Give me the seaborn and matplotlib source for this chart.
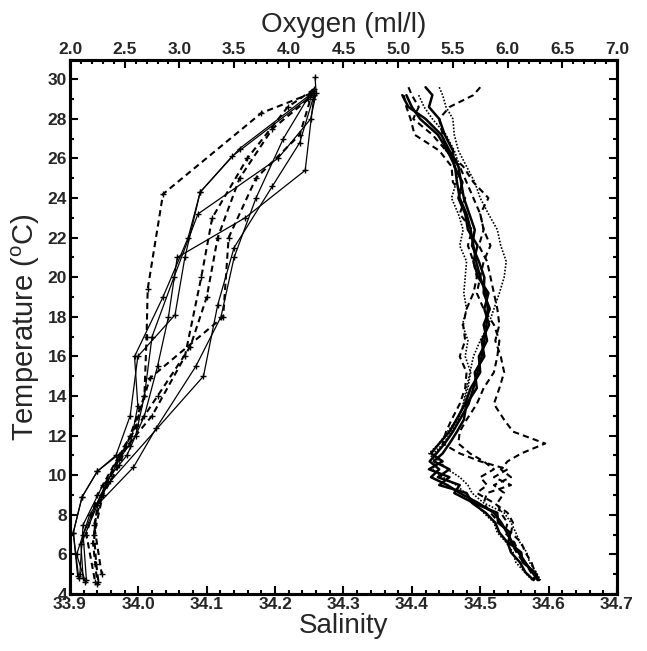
import numpy as np
import pandas as pd
import matplotlib
matplotlib.use('Agg')
import matplotlib.pyplot as plt
import seaborn as sns
from matplotlib.ticker import MultipleLocator

# ---- data ----
# oxygen bottle profiles: temperature (C) and oxygen (ml/l)
OXY_TEMP = [
    [29.3, 28.3, 24.2, 19.4, 17.0, 14.0, 12.0, 10.5, 9.0, 7.0, 5.5, 4.6],
    [29.1, 26.1, 24.3, 22.0, 19.0, 16.0, 13.5, 11.5, 10.2, 8.9, 7.1, 4.9],
    [29.2, 25.4, 23.0, 21.0, 18.0, 15.5, 13.0, 11.0, 9.5, 7.5, 5.0],
    [29.0, 26.8, 24.6, 21.5, 18.6, 15.0, 9.7, 8.0, 6.0, 4.6],
    [29.3, 27.0, 24.0, 21.0, 18.0, 15.5, 12.4, 10.4, 8.5, 6.5, 4.8],
    [29.4, 27.2, 25.0, 22.0, 18.0, 14.9, 12.5, 10.5, 8.5, 6.6, 4.5],
    [29.5, 28.6, 26.0, 23.0, 20.0, 16.0, 13.0, 11.0, 9.0, 7.0, 4.6],
    [29.2, 26.5, 24.3, 21.0, 18.1, 16.0, 13.0, 11.0, 10.2, 8.9, 7.1, 4.8],
    [29.0, 27.5, 25.0, 22.0, 19.0, 16.5, 14.0, 11.5, 9.5, 7.5, 5.0],
    [30.1, 29.3, 28.0, 26.0, 23.2, 20.0, 17.0, 14.0, 12.0, 10.8, 9.0, 7.0, 4.7],
]
OXY_VAL = [
    [4.21, 3.75, 2.85, 2.71, 2.70, 2.68, 2.55, 2.45, 2.30, 2.22, 2.24, 2.26],
    [4.19, 3.48, 3.19, 3.08, 2.85, 2.59, 2.62, 2.55, 2.25, 2.11, 2.03, 2.07],
    [4.23, 4.15, 3.60, 2.98, 2.90, 2.80, 2.68, 2.52, 2.30, 2.12, 2.09],
    [4.22, 4.10, 3.85, 3.50, 3.35, 3.22, 2.37, 2.18, 2.06, 2.14],
    [4.20, 3.95, 3.70, 3.50, 3.38, 3.15, 2.79, 2.58, 2.25, 2.10, 2.12],
    [4.22, 4.10, 3.70, 3.45, 3.40, 2.73, 2.60, 2.42, 2.25, 2.21, 2.25],
    [4.23, 3.99, 3.62, 3.30, 3.20, 3.05, 2.75, 2.45, 2.25, 2.15, 2.23],
    [4.19, 3.55, 3.19, 3.05, 2.96, 2.62, 2.55, 2.42, 2.25, 2.11, 2.03, 2.08],
    [4.18, 3.85, 3.55, 3.35, 3.25, 3.10, 2.80, 2.50, 2.32, 2.22, 2.29],
    [4.24, 4.25, 4.20, 3.90, 3.17, 2.95, 2.75, 2.68, 2.60, 2.45, 2.28, 2.12, 2.15],
]
OXY_DASHED = [True, False, False, False, False, True, True, False, True, False]

# CTD salinity profiles on shared temperature levels
SAL_TEMP = [29.6, 29.2, 28.6, 28.0, 27.2, 26.4, 25.6, 24.8, 24.0, 23.2,
            22.4, 21.6, 20.8, 20.0, 19.2, 18.4, 17.6, 16.8, 16.0, 15.2,
            14.4, 13.6, 12.8, 12.2, 11.6, 11.1, 10.7, 10.3, 9.9, 9.5,
            9.1, 8.6, 8.1, 7.6, 7.1, 6.6, 6.1, 5.6, 5.1, 4.7]
nan = np.nan
SAL_VAL = [
    [nan, 34.392, 34.400, 34.412, 34.438, 34.452, 34.463, 34.466, 34.470, 34.480,
     34.486, 34.490, 34.494, 34.500, 34.508, 34.511, 34.509, 34.506, 34.502, 34.496,
     34.490, 34.483, 34.470, 34.460, 34.448, 34.436, 34.426, 34.440, 34.428, 34.452,
     34.470, 34.497, 34.520, 34.531, 34.539, 34.547, 34.556, 34.566, 34.576, 34.584],
    [nan, 34.386, 34.395, 34.420, 34.443, 34.455, 34.468, 34.472, 34.476, 34.484,
     34.492, 34.488, 34.498, 34.506, 34.505, 34.514, 34.505, 34.510, 34.498, 34.500,
     34.486, 34.478, 34.465, 34.455, 34.440, 34.428, 34.445, 34.425, 34.455, 34.440,
     34.480, 34.488, 34.508, 34.522, 34.528, 34.540, 34.545, 34.558, 34.566, 34.578],
    [34.420, 34.430, 34.425, 34.440, 34.448, 34.460, 34.462, 34.474, 34.468, 34.478,
     34.482, 34.496, 34.490, 34.497, 34.512, 34.506, 34.513, 34.502, 34.506, 34.492,
     34.495, 34.480, 34.476, 34.466, 34.455, 34.445, 34.432, 34.455, 34.438, 34.470,
     34.462, 34.490, 34.525, 34.526, 34.544, 34.541, 34.560, 34.562, 34.580, 34.586],
    [34.395, 34.400, 34.410, 34.402, 34.430, 34.450, 34.470, 34.480, 34.490, 34.500,
     34.505, 34.498, 34.510, 34.515, 34.520, 34.525, 34.528, 34.522, 34.530, 34.535,
     34.528, 34.520, 34.535, 34.548, 34.595, 34.560, 34.540, 34.530, 34.545, 34.520,
     34.535, 34.525, 34.530, 34.540, 34.536, 34.550, 34.556, 34.565, 34.574, 34.580],
    [34.500, 34.490, 34.455, 34.440, 34.445, 34.450, 34.475, 34.490, 34.512, 34.500,
     34.505, 34.515, 34.505, 34.500, 34.495, 34.505, 34.520, 34.528, 34.525, 34.520,
     34.505, 34.495, 34.480, 34.470, 34.468, 34.485, 34.505, 34.520, 34.500, 34.510,
     34.495, 34.520, 34.540, 34.548, 34.545, 34.560, 34.566, 34.575, 34.580, 34.585],
    [nan, 34.388, 34.392, 34.398, 34.404, 34.440, 34.458, 34.460, 34.478, 34.470,
     34.488, 34.482, 34.490, 34.495, 34.490, 34.480, 34.475, 34.478, 34.470, 34.480,
     34.478, 34.470, 34.458, 34.450, 34.445, 34.470, 34.500, 34.540, 34.520, 34.545,
     34.510, 34.505, 34.515, 34.528, 34.542, 34.545, 34.553, 34.563, 34.578, 34.588],
    [34.440, 34.445, 34.450, 34.460, 34.462, 34.468, 34.480, 34.492, 34.500, 34.512,
     34.525, 34.530, 34.538, 34.535, 34.528, 34.520, 34.512, 34.500, 34.490, 34.485,
     34.480, 34.475, 34.468, 34.458, 34.446, 34.432, 34.440, 34.452, 34.470, 34.482,
     34.488, 34.505, 34.535, 34.545, 34.552, 34.558, 34.568, 34.572, 34.582, 34.588],
    [nan, 34.410, 34.418, 34.430, 34.450, 34.462, 34.470, 34.465, 34.458, 34.468,
     34.475, 34.470, 34.480, 34.478, 34.476, 34.480, 34.474, 34.482, 34.478, 34.486,
     34.482, 34.476, 34.466, 34.452, 34.440, 34.425, 34.435, 34.430, 34.445, 34.465,
     34.478, 34.492, 34.505, 34.520, 34.525, 34.538, 34.548, 34.552, 34.565, 34.576],
]
SAL_STYLE = ['solid', 'solid', 'solid', 'dashed', 'dashed', 'dashed', 'dotted', 'dotted']

SAL_TICKS = [33.9, 34.0, 34.1, 34.2, 34.3, 34.4, 34.5, 34.6, 34.7]
OXY_TICKS = [2.0, 2.5, 3.0, 3.5, 4.0, 4.5, 5.0, 5.5, 6.0, 6.5, 7.0]
TEMP_TICKS = [4, 6, 8, 10, 12, 14, 16, 18, 20, 22, 24, 26, 28, 30]

sns.set_theme(style='ticks')
plt.rcParams['font.family'] = ['Liberation Sans', 'DejaVu Sans']
plt.rcParams['mathtext.fontset'] = 'custom'
plt.rcParams['mathtext.rm'] = 'Liberation Sans'

fig = plt.figure(figsize=(6.47, 6.51), dpi=100)
ax = fig.add_axes([0.1082, 0.0876, 0.8454, 0.8210])
ax_top = ax.twiny()

line_styles = {'solid': ('-', 1.8), 'dashed': ((0, (3, 2)), 1.5), 'dotted': ((0, (1, 1)), 1.2)}
for sal, style in zip(SAL_VAL, SAL_STYLE):
    df = pd.DataFrame({'temp': SAL_TEMP, 'sal': sal}).dropna()
    ls, lw = line_styles[style]
    sns.lineplot(data=df, x='sal', y='temp', sort=False, estimator=None, ax=ax,
                 color='black', linestyle=ls, linewidth=lw)

for temps, oxy, dashed in zip(OXY_TEMP, OXY_VAL, OXY_DASHED):
    df = pd.DataFrame({'temp': temps, 'oxy': oxy})
    sns.lineplot(data=df, x='oxy', y='temp', sort=False, estimator=None, ax=ax_top,
                 color='black', linestyle=(0, (3, 2)) if dashed else '-',
                 linewidth=1.5 if dashed else 0.9,
                 marker='+', markersize=4, markeredgewidth=1.0, markeredgecolor='black')

ax.set_xlim(33.9, 34.7)
ax.set_ylim(4, 31)
ax_top.set_xlim(2.0, 7.0)

ax.set_xticks(SAL_TICKS)
ax.set_xticklabels([f'{t:.1f}' for t in SAL_TICKS], fontweight='bold', fontsize=12.5)
ax.xaxis.set_minor_locator(MultipleLocator(0.02))
ax.set_yticks(TEMP_TICKS)
ax.set_yticklabels([str(t) for t in TEMP_TICKS], fontweight='bold', fontsize=12.5)
ax.yaxis.set_minor_locator(MultipleLocator(1))
ax_top.set_xticks(OXY_TICKS)
ax_top.set_xticklabels([f'{t:.1f}' for t in OXY_TICKS], fontweight='bold', fontsize=12.5)
ax_top.xaxis.set_minor_locator(MultipleLocator(0.1))

ax.tick_params(which='both', direction='in', color='black', width=1.5,
               left=True, right=True, bottom=True, top=False, pad=2)
ax.tick_params(which='major', length=6)
ax.tick_params(which='minor', length=3)
ax_top.tick_params(which='both', direction='in', color='black', width=1.5, pad=2)
ax_top.tick_params(which='major', length=6)
ax_top.tick_params(which='minor', length=3)

for a in (ax, ax_top):
    for sp in a.spines.values():
        sp.set_linewidth(2.2)
        sp.set_color('black')
        sp.set_visible(True)

ax.set_xlabel('Salinity', fontsize=20, labelpad=1)
ax.set_ylabel('Temperature ($^{\\rm o}$C)', fontsize=21, labelpad=4)
ax_top.set_xlabel('Oxygen (ml/l)', fontsize=20, labelpad=7)
ax.grid(False)
ax_top.grid(False)

fig.savefig('out.png', dpi=100, facecolor='white')
